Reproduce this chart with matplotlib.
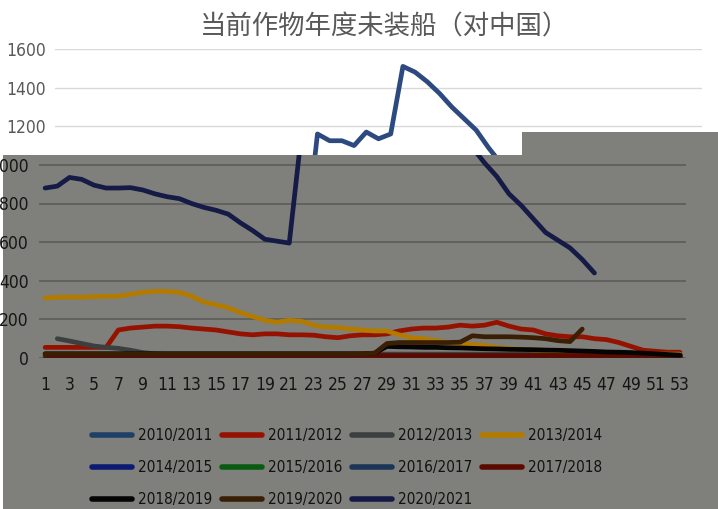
import numpy as np
import matplotlib
matplotlib.use("Agg")
import matplotlib.pyplot as plt
from matplotlib.patches import Polygon
from matplotlib import font_manager as fm

W, H = 718, 509

# pick a narrow font if available
_fp = fm.FontProperties(family="DejaVu Sans", stretch="condensed")
_path = fm.findfont(_fp, fallback_to_default=True)
if "Condensed" in _path:
    NARROW = {"family": "DejaVu Sans", "stretch": "condensed"}
    FS = 12.5
    LFS = 11
else:
    NARROW = {"family": "Liberation Sans", "stretch": "normal"}
    FS = 11.5
    LFS = 10.5

title = "当前作物年度未装船（对中国）"
weeks = list(range(1, 54))
week_ticks = list(range(1, 54, 2))
low_ticks = [0, 200, 400, 600, 800, 1000]
high_ticks = [1200, 1400, 1600]

seasons = ["2010/2011", "2011/2012", "2012/2013", "2013/2014", "2014/2015", "2015/2016",
           "2016/2017", "2017/2018", "2018/2019", "2019/2020", "2020/2021"]

s2010_11 = [4, 4, 4, 4, 4, 4, 4, 4, 4, 4, 4, 4, 4, 4, 4, 4, 4, 4, 4, 4, 4, 4, 4, 4, 4, 4, 4,
            4, 4, 4, 4, 4, 4, 4, 4, 4, 4, 4, 4, 4, 4, 4, 4, 4, 4, 4, 4, 4, 4, 4, 4, 4, 4]
s2011_12 = [55, 55, 55, 55, 55, 55, 145, 155, 160, 165, 165, 162, 155, 150, 145, 135, 125, 120,
            125, 125, 120, 120, 118, 110, 105, 115, 120, 120, 125, 140, 150, 155, 155, 160, 170,
            165, 170, 185, 165, 150, 145, 125, 115, 110, 110, 100, 95, 80, 60, 40, 35, 30, 30]
s2012_13 = [np.nan, 100, 88, 75, 62, 55, 50, 40, 28, 22, 20, 20, 20, 20, 20, 20, 20, 20, 20, 20,
            20, 20, 20, 20, 20, 20, 20, 20, 20, 20, 20, 20, 20, 20, 20, 20, 20, 20, 20, 20, 20,
            20, 20, 20, 20, 20, 20, 20, 20, 20, 20, 20, 20]
s2013_14 = [310, 315, 315, 315, 318, 320, 320, 330, 340, 345, 345, 340, 320, 290, 275, 260, 235,
            215, 195, 185, 195, 190, 170, 160, 158, 150, 145, 140, 140, 120, 105, 100, 90, 80, 75,
            70, 65, 55, 50, 45, 42, 40, 38, 35, 33, 30, 28, 26, 24, 22, 20, 20, 20]
s2014_15 = [3, 3, 3, 3, 3, 3, 3, 3, 3, 3, 3, 3, 3, 3, 3, 3, 3, 3, 3, 3, 3, 3, 3, 3, 3, 3, 3,
            3, 3, 3, 3, 3, 3, 3, 3, 3, 3, 3, 3, 3, 3, 3, 3, 3, 3, 3, 3, 3, 3, 3, 3, 3, 3]
s2015_16 = [6, 6, 6, 6, 6, 6, 6, 6, 6, 6, 6, 6, 6, 6, 6, 6, 6, 6, 6, 6, 6, 6, 6, 6, 6, 6, 6,
            6, 6, 6, 6, 6, 6, 6, 6, 6, 6, 6, 6, 6, 6, 6, 6, 6, 6, 6, 6, 6, 6, 6, 6, 8, 8]
s2016_17 = [2, 2, 2, 2, 2, 2, 2, 2, 2, 2, 2, 2, 2, 2, 2, 2, 2, 2, 2, 2, 2, 2, 2, 2, 2, 2, 2,
            2, 2, 2, 2, 2, 2, 2, 2, 2, 2, 2, 2, 2, 2, 2, 2, 2, 2, 2, 2, 2, 2, 2, 2, 2, 2]
s2017_18 = [15, 15, 15, 15, 15, 15, 15, 15, 15, 15, 15, 15, 15, 15, 15, 15, 15, 15, 15, 15, 15,
            15, 15, 15, 15, 15, 15, 15, 15, 15, 15, 15, 15, 15, 15, 15, 15, 15, 15, 15, 15, 15,
            15, 15, 15, 15, 15, 15, 15, 15, 15, 15, 15]
s2018_19 = [22, 22, 22, 22, 22, 22, 22, 22, 22, 22, 22, 22, 22, 22, 22, 22, 22, 22, 22, 22, 22,
            22, 22, 22, 22, 22, 22, 25, 60, 58, 57, 55, 55, 53, 52, 50, 48, 47, 45, 44, 43, 41,
            40, 38, 36, 34, 31, 30, 28, 25, 22, 18, 15]
s2019_20 = [20, 20, 20, 20, 20, 20, 20, 20, 20, 20, 20, 20, 20, 20, 20, 20, 20, 20, 20, 20, 20,
            20, 20, 20, 20, 20, 22, 25, 75, 80, 80, 80, 80, 80, 82, 115, 110, 110, 110, 108, 105,
            100, 90, 85, 150]
s2020_21 = [880, 890, 935, 925, 895, 880, 880, 882, 870, 850, 835, 825, 800, 780, 765, 745, 700,
            660, 615, 605, 595, 1160, 1125, 1125, 1100, 1170, 1135, 1160, 1510, 1480, 1430, 1370,
            1300, 1240, 1180, 1090, 1010, 940, 850, 790, 720, 650, 610, 570, 510, 440]

series = [s2010_11, s2011_12, s2012_13, s2013_14, s2014_15, s2015_16,
          s2016_17, s2017_18, s2018_19, s2019_20, s2020_21]
colors = ["#1f3f66", "#951200", "#3b3f3f", "#b37a00", "#0d1a73", "#0b5a12",
          "#1b3558", "#5c0a00", "#050505", "#3a1f05", "#151b46"]
navy_light = "#2c4a80"

fig = plt.figure(figsize=(W / 100, H / 100), dpi=100, facecolor="white")


def fpt(px, py):
    return (px / W, 1 - py / H)


gray_pts = [fpt(*p) for p in [(3, 509), (3, 155), (522, 155), (522, 132), (718, 132), (718, 509)]]
white_pts = [fpt(*p) for p in [(0, 0), (718, 0), (718, 132), (522, 132), (522, 155), (3, 155),
                               (3, 509), (0, 509)]]
fig.patches.append(Polygon(gray_pts, closed=True, transform=fig.transFigure,
                           facecolor="#7f807b", edgecolor="none", zorder=-1))

# lower (gray) panel
ax1 = fig.add_axes([39 / W, 1 - 358 / H, 647 / W, 309 / H])
# upper (white) panel, shifted slightly right
ax2 = fig.add_axes([55 / W, 1 - 358 / H, 647 / W, 309 / H])

for ax in (ax1, ax2):
    ax.set_facecolor("none")
    for s in ax.spines.values():
        s.set_visible(False)
    ax.set_xlim(0.5, 53.5)
    ax.set_ylim(0, 1600)
    ax.set_axisbelow(True)

ax1.set_yticks(low_ticks)
ax1.set_xticks(week_ticks)
ax1.set_xticklabels([str(w) for w in week_ticks])
ax1.yaxis.grid(True, color="#585a56", lw=1.1)
ax1.tick_params(axis="both", length=0, labelcolor="#151515", labelsize=FS)
ax1.tick_params(axis="y", pad=7.5)
ax1.tick_params(axis="x", pad=13)
for lab in ax1.get_xticklabels() + ax1.get_yticklabels():
    lab.set_family(NARROW["family"])
    lab.set_stretch(NARROW["stretch"])

ax2.set_yticks(high_ticks)
ax2.set_xticks([])
ax2.yaxis.grid(True, color="#d9d9d9", lw=1)
ax2.tick_params(axis="both", length=0, labelcolor="#595959", labelsize=FS)
ax2.tick_params(axis="y", pad=6.5)
for lab in ax2.get_yticklabels():
    lab.set_family(NARROW["family"])
    lab.set_stretch(NARROW["stretch"])

handles = []
for name, vals, col in zip(seasons, series, colors):
    ln, = ax1.plot(weeks[:len(vals)], vals, color=col, lw=3.4, label=name,
                   solid_capstyle="round", solid_joinstyle="round")
    handles.append(ln)
    if name == "2020/2021":
        ln.set_clip_path(Polygon(gray_pts, closed=True, transform=fig.transFigure))
        ln2, = ax2.plot(weeks[:len(vals)], vals, color=navy_light, lw=3.4,
                        solid_capstyle="round", solid_joinstyle="round")
        ln2.set_clip_path(Polygon(white_pts, closed=True, transform=fig.transFigure))

fig.text(385 / W, 1 - 27 / H, title, ha="center", va="center", fontsize=19,
         color="#595959", family=["Noto Sans CJK SC", "DejaVu Sans"], fontweight="light")

order = [0, 4, 8, 1, 5, 9, 2, 6, 10, 3, 7]
leg = fig.legend([handles[i] for i in order], [seasons[i] for i in order], ncol=4,
                 loc="upper left", bbox_to_anchor=(92 / W, 1 - 428 / H), frameon=False,
                 borderpad=0, borderaxespad=0, handlelength=2.6, handletextpad=0.4,
                 columnspacing=0.65, labelspacing=1.12,
                 prop={"family": NARROW["family"], "stretch": NARROW["stretch"], "size": LFS})
for t in leg.get_texts():
    t.set_color("#111111")
for lh in leg.legend_handles:
    lh.set_linewidth(4)

fig.savefig("out.png", dpi=100, facecolor="white")
